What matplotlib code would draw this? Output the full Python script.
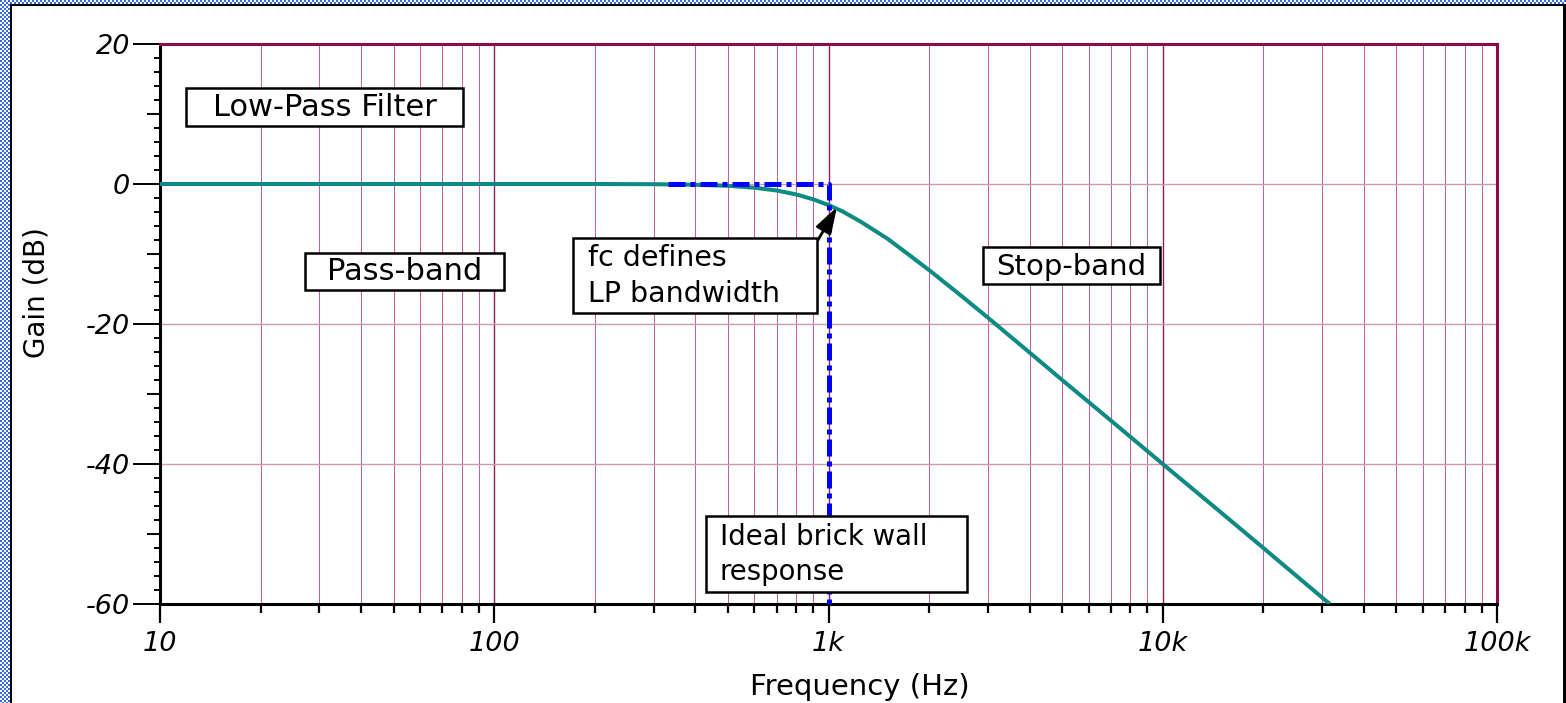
import numpy as np
import matplotlib
matplotlib.use("Agg")
import matplotlib.pyplot as plt
from matplotlib.ticker import FixedLocator, NullFormatter, MultipleLocator
from matplotlib.patches import Rectangle

# ---- data -----------------------------------------------------------------
# Measured low-pass response (2nd order, fc = 1 kHz)
freq_hz = [10, 50, 100, 200, 300, 400, 500, 600, 700, 800, 900, 1000, 1100,
           1250, 1500, 1750, 2000, 2500, 3000, 4000, 5000, 7000, 10000,
           15000, 20000, 25000, 31600]
gain_db = [0.0, 0.0, 0.0, 0.0, -0.03, -0.11, -0.26, -0.53, -0.93, -1.49,
           -2.19, -3.0, -3.9, -5.4, -7.8, -10.2, -12.3, -16.0, -19.1, -24.1,
           -28.0, -33.8, -40.0, -47.0, -52.0, -55.9, -60.0]

# Ideal brick-wall response
ideal_freq = [330, 1000, 1000]
ideal_gain = [0, 0, -60]

# Point on the curve marked as the cutoff frequency
fc_point = (1060, -3.3)

x_ticks = [10, 100, 1000, 10000, 100000]
x_tick_labels = ["10", "100", "1k", "10k", "100k"]
y_ticks = [-60, -40, -20, 0, 20]
y_tick_labels = ["-60", "-40", "-20", "0", "20"]
y_mid_ticks = [-50, -30, -10, 10]

# ---- figure ---------------------------------------------------------------
W, H = 1566, 703
plt.rcParams["font.family"] = ["DejaVu Sans"]
fig = plt.figure(figsize=(W / 100, H / 100), dpi=100)
fig.patch.set_facecolor("white")


def fx(px):
    return px / W


def fy(py):
    return 1 - py / H


ax = fig.add_axes([fx(160), fy(604), fx(1497) - fx(160), fy(44) - fy(604)])
ax.set_xscale("log")
ax.set_xlim(10, 1e5)
ax.set_ylim(-60, 20)
ax.set_axisbelow(True)

minor_x = [m * 10 ** k for k in range(1, 5) for m in range(2, 10)]
ax.xaxis.set_major_locator(FixedLocator(x_ticks))
ax.xaxis.set_minor_locator(FixedLocator(minor_x))
ax.xaxis.set_minor_formatter(NullFormatter())
ax.set_xticks(x_ticks)
ax.set_xticklabels(x_tick_labels, fontstyle="italic", fontsize=19.5)
ax.set_yticks(y_ticks)
ax.set_yticklabels(y_tick_labels, fontstyle="italic", fontsize=19.5)
ax.yaxis.set_minor_locator(MultipleLocator(2))

# grid
ax.grid(which="minor", axis="x", color="#C0649A", lw=0.75)
ax.grid(which="major", axis="x", color="#8C1C5A", lw=1.0)
ax.grid(which="major", axis="y", color="#CC98B2", lw=1.0)

# ticks
ax.tick_params(axis="x", which="major", direction="out", length=13.7,
               width=1.6, color="black", pad=6)
ax.tick_params(axis="x", which="minor", direction="out", length=6.5,
               width=1.6, color="black")
ax.tick_params(axis="y", which="major", direction="out", length=19.4,
               width=1.4, color="black", pad=2)
ax.tick_params(axis="y", which="minor", direction="out", length=4.5,
               width=1.4, color="black")

# medium ticks every 10 dB
sec = ax.secondary_yaxis("left")
sec.set_yticks(y_mid_ticks)
sec.tick_params(axis="y", direction="out", length=9.5, width=1.4,
                color="black", labelleft=False)
sec.spines["left"].set_visible(False)

# spines
for side in ("left", "bottom"):
    ax.spines[side].set_color("black")
    ax.spines[side].set_linewidth(2.2)
for side in ("top", "right"):
    ax.spines[side].set_color("#8B0A4A")
    ax.spines[side].set_linewidth(2.2)

# curves
ax.plot(freq_hz, gain_db, color="#0E8A84", lw=2.9, zorder=3,
        solid_capstyle="butt")
ax.plot(ideal_freq, ideal_gain, color="#0000FF", lw=3.6,
        dashes=[3.4, 1.0, 1.0, 1.0], zorder=4)

# arrow pointing at the cutoff
ax.annotate("", xy=fc_point, xycoords="data",
            xytext=(818, H - 240), textcoords="figure pixels",
            arrowprops=dict(arrowstyle="-|>,head_length=0.8,head_width=0.26",
                            color="black", lw=2.0, shrinkA=0, shrinkB=0,
                            mutation_scale=20),
            annotation_clip=False, zorder=7)

# axis titles
fig.text(fx(860), fy(695), "Frequency (Hz)", fontsize=21, ha="center",
         va="baseline")
fig.text(fx(36), fy(293), "Gain (dB)", fontsize=20, rotation=90,
         ha="center", va="center")


# labelled boxes
def box(x0, y0, x1, y1):
    fig.add_artist(Rectangle((fx(x0), fy(y1)), fx(x1) - fx(x0),
                             fy(y0) - fy(y1), transform=fig.transFigure,
                             facecolor="white", edgecolor="black", lw=1.8,
                             zorder=5))


box(186, 88, 463, 126)
fig.text(fx(324.5), fy(116), "Low-Pass Filter", fontsize=22, ha="center",
         va="baseline", zorder=6)

box(305, 253, 504, 290)
fig.text(fx(404.5), fy(280), "Pass-band", fontsize=22, ha="center",
         va="baseline", zorder=6)

box(983, 247, 1160, 284)
fig.text(fx(1071.5), fy(275), "Stop-band", fontsize=21, ha="center",
         va="baseline", zorder=6)

box(573, 238, 817, 313)
fig.text(fx(588), fy(265.5), "fc defines", fontsize=20.5, ha="left",
         va="baseline", zorder=6)
fig.text(fx(588), fy(302.5), "LP bandwidth", fontsize=20.5, ha="left",
         va="baseline", zorder=6)

box(706, 516, 967, 592)
fig.text(fx(720), fy(545), "Ideal brick wall", fontsize=19.8, ha="left",
         va="baseline", zorder=6)
fig.text(fx(720), fy(580), "response", fontsize=19.8, ha="left",
         va="baseline", zorder=6)

# checkered frame along the left and top edges
frame = np.zeros((H, W, 4))
yy, xx = np.mgrid[0:H, 0:W]
checker = ((yy // 2 + xx // 2) % 2) == 0
blue = np.array([0.22, 0.42, 0.88, 1.0])
white = np.array([1.0, 1.0, 1.0, 1.0])
strip = (xx < 10) | (yy < 4)
frame[strip & checker] = blue
frame[strip & ~checker] = white
frame[(xx >= 10) & (xx < 12) & (yy >= 4)] = [0, 0, 0, 1]
frame[(yy >= 4) & (yy < 6) & (xx >= 10)] = [0, 0, 0, 1]
frame[(xx >= 1563) & (yy >= 4)] = [0, 0, 0, 1]
fig.figimage(frame, xo=0, yo=0, origin="upper", zorder=20)

fig.savefig("out.png", dpi=100)
